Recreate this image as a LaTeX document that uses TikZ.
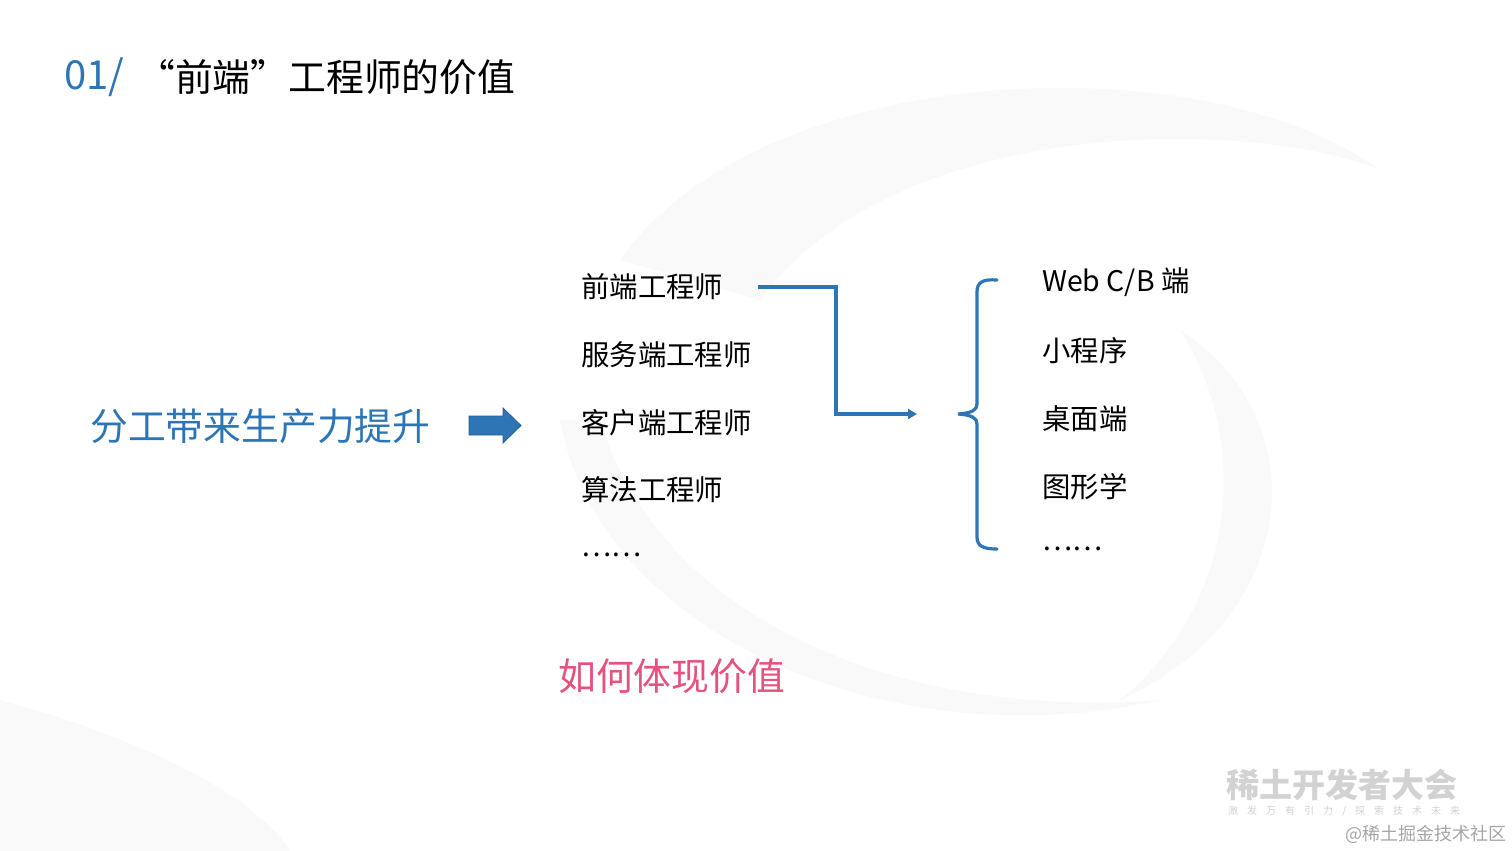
\documentclass[tikz,border=0pt]{standalone}
\usepackage{fontspec}
\setmainfont{Noto Sans CJK SC}
\usetikzlibrary{arrows.meta}

\definecolor{slideblue}{RGB}{46,117,182}
\definecolor{arrowedge}{RGB}{40,96,150}
\definecolor{valuepink}{RGB}{228,82,126}
\definecolor{markgray}{RGB}{210,210,210}

\tikzset{
  item/.style={anchor=west,inner sep=0pt,font=\fontsize{28.4}{33}\selectfont},
  head/.style={anchor=west,inner sep=0pt,font=\fontsize{37.8}{44}\selectfont},
  link/.style={draw=slideblue,line width=3.2pt},
  swirl/.style={fill=black,fill opacity=0.022}
}

\begin{document}
\begin{tikzpicture}[x=1pt,y=-1pt]
\useasboundingbox (0,0) rectangle (1512,851);
\fill[white] (0,0) rectangle (1512,851);

%Background swirls
\fill[swirl] (620,260) .. controls (760,60) and (1200,40) .. (1380,170) .. controls (1260,120) and (900,110) .. (760,300) -- cycle;
\fill[swirl] (1180,330) .. controls (1320,420) and (1300,620) .. (1120,700) .. controls (1240,600) and (1250,440) .. (1180,330) -- cycle;
\fill[swirl] (560,420) .. controls (600,640) and (900,760) .. (1160,700) .. controls (900,720) and (660,620) .. (600,420) -- cycle;
\fill[swirl] (0,700) .. controls (150,740) and (260,800) .. (290,851) -- (0,851) -- cycle;

% Title
\node[head,text=slideblue,font=\fontsize{40}{46}\selectfont] (num) at (64,77) {01/};
\node[head] (title) at (137,77) {“前端”工程师的价值};

% Left statement and block arrow
\node[head,text=slideblue] (claim) at (90,426) {分工带来生产力提升};
\filldraw[fill=slideblue,draw=arrowedge,line width=0.8pt]
  (469,416) -- (503,416) -- (503,408) -- (521,425.5) -- (503,443) -- (503,435) -- (469,435) -- cycle;

% Roles
\node[item] (fe) at (581,287) {前端工程师};
\node[item] (be) at (581,355) {服务端工程师};
\node[item] (ce) at (581,423) {客户端工程师};
\node[item] (ae) at (581,490) {算法工程师};
\node[item] (more) at (581,555) {……};

% Connector
\coordinate (bend) at (836,414);
\coordinate (tip) at (917,414);
\draw[link,-{Triangle[length=9pt,width=10pt]}] ([xshift=35pt]fe.east) -| (bend) -- (tip);

% Brace
\draw[link,line cap=round] (997,280) .. controls (983,279) and (977,282) .. (977,292) -- (977,404)
  .. controls (977,410) and (972,413) .. (958,414) .. controls (972,415) and (977,418) .. (977,424)
  -- (977,537) .. controls (977,546) and (983,549) .. (997,549);

% Fields
\node[item] (web) at (1042,282) {Web C/B 端};
\node[item] (mini) at (1042,351) {小程序};
\node[item] (desk) at (1042,419) {桌面端};
\node[item] (gfx) at (1042,487) {图形学};
\node[item] (etc) at (1042,549) {……};

% Question
\node[head,text=valuepink] (ask) at (558,676) {如何体现价值};

% Watermark
\node[anchor=west,inner sep=0pt,text=markgray,font=\fontsize{33}{36}\selectfont\bfseries] (conf) at (1226,785) {稀土开发者大会};
\node[anchor=west,inner sep=0pt,text=markgray,font=\fontsize{10}{11}\selectfont] (motto) at (1228,811)
  {\makebox[232pt][s]{激\hfill 发\hfill 万\hfill 有\hfill 引\hfill 力\hfill /\hfill 探\hfill 索\hfill 技\hfill 术\hfill 未\hfill 来}};
\node[anchor=west,inner sep=0pt,text=gray!70,font=\fontsize{18}{21}\selectfont] (site) at (1345,834) {@稀土掘金技术社区};
\end{tikzpicture}
\end{document}
